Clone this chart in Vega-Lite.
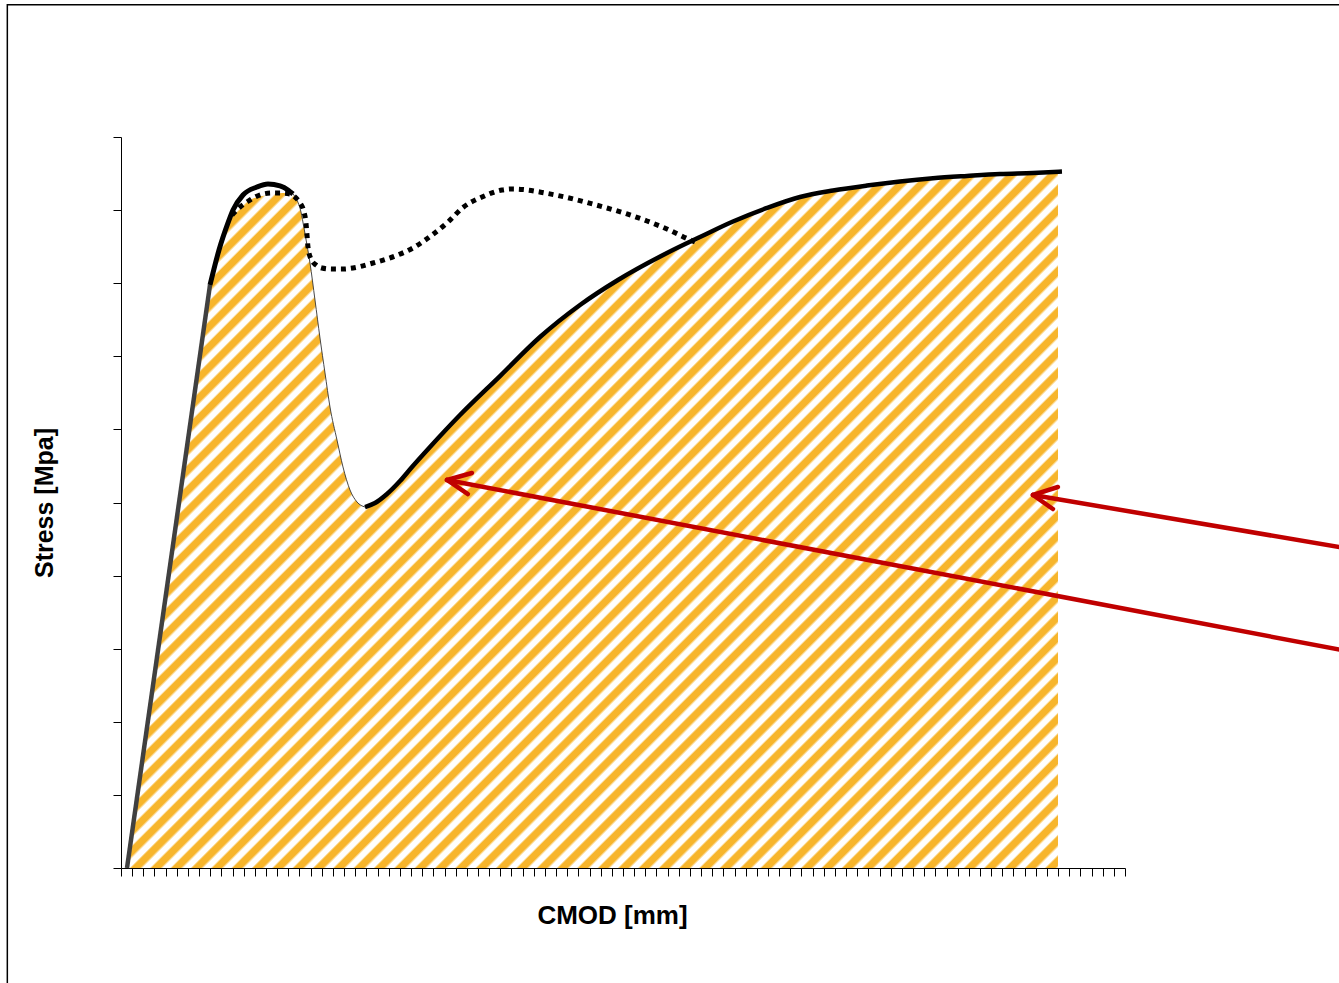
{
  "$schema": "https://vega.github.io/schema/vega-lite/v6.json",
  "width": 1004,
  "height": 731,
  "autosize": {"type": "none"},
  "padding": {"left": 121, "top": 137, "right": 214, "bottom": 115},
  "background": "white",
  "config": {"view": {"stroke": null}},
  "datasets": {
    "frame": [{"x": -10.19, "x2": 130, "y": 11.81, "y2": -5}],
    "area": [
      {"x": 0.538, "y": 0}, {"x": 4.0, "y": 3.711}, {"x": 7.5, "y": 7.463}, {"x": 7.978, "y": 7.975},
      {"x": 8.785, "y": 8.454}, {"x": 9.591, "y": 8.824}, {"x": 10.398, "y": 9.001}, {"x": 11.564, "y": 9.138},
      {"x": 13.087, "y": 9.207}, {"x": 14.522, "y": 9.234}, {"x": 15.329, "y": 9.22}, {"x": 15.777, "y": 9.138},
      {"x": 16.135, "y": 8.974}, {"x": 16.404, "y": 8.755}, {"x": 16.673, "y": 8.523}, {"x": 16.942, "y": 8.276},
      {"x": 17.39, "y": 7.77}, {"x": 17.838, "y": 7.25}, {"x": 18.287, "y": 6.772}, {"x": 18.735, "y": 6.306},
      {"x": 19.362, "y": 5.855}, {"x": 19.9, "y": 5.486}, {"x": 20.528, "y": 5.171}, {"x": 21.155, "y": 5.007},
      {"x": 21.872, "y": 4.938}, {"x": 22.769, "y": 4.993}, {"x": 23.844, "y": 5.117}, {"x": 25.01, "y": 5.294},
      {"x": 26.086, "y": 5.486}, {"x": 27.699, "y": 5.760}, {"x": 30.388, "y": 6.197}, {"x": 33.974, "y": 6.730},
      {"x": 37.559, "y": 7.264}, {"x": 41.145, "y": 7.702}, {"x": 44.551, "y": 8.044}, {"x": 48.943, "y": 8.413},
      {"x": 51.901, "y": 8.632}, {"x": 54.859, "y": 8.844}, {"x": 57.907, "y": 9.029}, {"x": 60.866, "y": 9.179},
      {"x": 63.824, "y": 9.268}, {"x": 66.871, "y": 9.336}, {"x": 69.83, "y": 9.391}, {"x": 72.788, "y": 9.435},
      {"x": 75.836, "y": 9.467}, {"x": 78.794, "y": 9.494}, {"x": 81.752, "y": 9.508}, {"x": 83.993, "y": 9.521}
    ],
    "grey": [{"x": 0.538, "y": 0}, {"x": 7.978, "y": 7.975}],
    "peak": [
      {"x": 7.978, "y": 7.975}, {"x": 8.785, "y": 8.454}, {"x": 9.591, "y": 8.824}, {"x": 10.04, "y": 9.001},
      {"x": 10.936, "y": 9.207}, {"x": 12.191, "y": 9.316}, {"x": 13.177, "y": 9.357}, {"x": 14.253, "y": 9.33},
      {"x": 14.97, "y": 9.275}, {"x": 15.418, "y": 9.22}
    ],
    "descent": [
      {"x": 15.418, "y": 9.22}, {"x": 15.777, "y": 9.138}, {"x": 16.135, "y": 8.974}, {"x": 16.404, "y": 8.755},
      {"x": 16.673, "y": 8.523}, {"x": 16.942, "y": 8.276}, {"x": 17.39, "y": 7.77}, {"x": 17.838, "y": 7.25},
      {"x": 18.287, "y": 6.772}, {"x": 18.735, "y": 6.306}, {"x": 19.362, "y": 5.855}, {"x": 19.9, "y": 5.486},
      {"x": 20.528, "y": 5.171}, {"x": 21.155, "y": 5.007}, {"x": 21.872, "y": 4.938}
    ],
    "rise": [
      {"x": 21.872, "y": 4.938}, {"x": 22.769, "y": 4.993}, {"x": 23.844, "y": 5.117}, {"x": 25.01, "y": 5.294},
      {"x": 26.086, "y": 5.486}, {"x": 27.699, "y": 5.760}, {"x": 30.388, "y": 6.197}, {"x": 33.974, "y": 6.730},
      {"x": 37.559, "y": 7.264}, {"x": 41.145, "y": 7.702}, {"x": 44.551, "y": 8.044}, {"x": 48.943, "y": 8.413},
      {"x": 51.901, "y": 8.632}, {"x": 54.859, "y": 8.844}, {"x": 57.907, "y": 9.029}, {"x": 60.866, "y": 9.179},
      {"x": 63.824, "y": 9.268}, {"x": 66.871, "y": 9.336}, {"x": 69.83, "y": 9.391}, {"x": 72.788, "y": 9.435},
      {"x": 75.836, "y": 9.467}, {"x": 78.794, "y": 9.494}, {"x": 81.752, "y": 9.508}, {"x": 84.351, "y": 9.528}
    ],
    "dotted": [
      {"x": 9.95, "y": 8.933}, {"x": 10.667, "y": 9.042}, {"x": 11.295, "y": 9.111}, {"x": 12.012, "y": 9.179},
      {"x": 12.729, "y": 9.22}, {"x": 13.536, "y": 9.234}, {"x": 14.432, "y": 9.234}, {"x": 15.149, "y": 9.22},
      {"x": 15.687, "y": 9.166}, {"x": 16.046, "y": 9.097}, {"x": 16.404, "y": 8.974}, {"x": 16.583, "y": 8.824},
      {"x": 16.673, "y": 8.659}, {"x": 16.763, "y": 8.495}, {"x": 17.032, "y": 8.331}, {"x": 17.48, "y": 8.249},
      {"x": 18.018, "y": 8.208}, {"x": 18.914, "y": 8.194}, {"x": 19.9, "y": 8.194}, {"x": 20.796, "y": 8.208},
      {"x": 22.589, "y": 8.276}, {"x": 24.561, "y": 8.372}, {"x": 26.175, "y": 8.482}, {"x": 27.878, "y": 8.659},
      {"x": 29.312, "y": 8.837}, {"x": 30.657, "y": 9.036}, {"x": 32.361, "y": 9.179}, {"x": 34.153, "y": 9.275},
      {"x": 35.139, "y": 9.289}, {"x": 36.035, "y": 9.282}, {"x": 38.007, "y": 9.234}, {"x": 39.8, "y": 9.179},
      {"x": 41.593, "y": 9.111}, {"x": 43.565, "y": 9.029}, {"x": 45.358, "y": 8.947}, {"x": 47.151, "y": 8.851},
      {"x": 48.943, "y": 8.741}, {"x": 50.826, "y": 8.605}, {"x": 51.454, "y": 8.564}
    ],
    "arrows": [
      {"x": 81.75, "y": 5.103, "x2": 111.06, "y2": 4.342},
      {"x": 81.75, "y": 5.103, "x2": 83.99, "y2": 5.212},
      {"x": 81.75, "y": 5.103, "x2": 83.54, "y2": 4.911},
      {"x": 29.22, "y": 5.308, "x2": 111.06, "y2": 2.934},
      {"x": 29.22, "y": 5.308, "x2": 31.46, "y2": 5.404},
      {"x": 29.22, "y": 5.308, "x2": 31.1, "y2": 5.116}
    ]
  },
  "encoding": {
    "x": {
      "field": "x", "type": "quantitative",
      "scale": {"domain": [0, 90], "nice": false, "zero": false},
      "axis": {
        "title": "CMOD [mm]", "labels": false, "grid": false, "tickCount": 90,
        "ticks": true, "tickSize": 8, "tickColor": "black", "tickWidth": 1,
        "domainColor": "black", "domainWidth": 1,
        "titleFont": "Liberation Sans", "titleFontSize": 26, "titleFontWeight": "bold", "titleColor": "black",
        "titleX": 491, "titleY": 55, "titleBaseline": "alphabetic", "titleAlign": "center"
      }
    },
    "y": {
      "field": "y", "type": "quantitative",
      "scale": {"domain": [0, 10], "nice": false, "zero": false},
      "axis": {
        "title": "Stress [Mpa]", "labels": false, "grid": false, "tickCount": 10,
        "ticks": true, "tickSize": 8, "tickColor": "black", "tickWidth": 1,
        "domainColor": "black", "domainWidth": 1,
        "titleFont": "Liberation Sans", "titleFontSize": 25, "titleFontWeight": "bold", "titleColor": "black",
        "titleX": -69, "titleY": 365.5, "titleBaseline": "alphabetic", "titleAlign": "center", "titleAngle": -90
      }
    }
  },
  "layer": [
    {
      "data": {"name": "frame"},
      "mark": {"type": "rect", "filled": false, "stroke": "black", "strokeWidth": 1.5, "clip": false},
      "encoding": {"x2": {"field": "x2"}, "y2": {"field": "y2"}}
    },
    {
      "data": {"name": "area"},
      "mark": {
        "type": "area", "interpolate": "monotone", "line": false,
        "fill": {
          "gradient": "linear", "x1": 0, "y1": 0, "x2": 1.1211, "y2": 0.8381,
          "stops": [
            {"offset":0,"color":"#fff"},{"offset":0.004,"color":"#fff"},{"offset":0.0055,"color":"#F7B52C"},{"offset":0.0105,"color":"#F7B52C"},{"offset":0.0125,"color":"#fff"},{"offset":0.0165,"color":"#fff"},{"offset":0.018,"color":"#F7B52C"},{"offset":0.023,"color":"#F7B52C"},
            {"offset":0.025,"color":"#fff"},{"offset":0.029,"color":"#fff"},{"offset":0.0305,"color":"#F7B52C"},{"offset":0.0355,"color":"#F7B52C"},{"offset":0.0375,"color":"#fff"},{"offset":0.0415,"color":"#fff"},{"offset":0.043,"color":"#F7B52C"},{"offset":0.048,"color":"#F7B52C"},
            {"offset":0.05,"color":"#fff"},{"offset":0.054,"color":"#fff"},{"offset":0.0555,"color":"#F7B52C"},{"offset":0.0605,"color":"#F7B52C"},{"offset":0.0625,"color":"#fff"},{"offset":0.0665,"color":"#fff"},{"offset":0.068,"color":"#F7B52C"},{"offset":0.073,"color":"#F7B52C"},
            {"offset":0.075,"color":"#fff"},{"offset":0.079,"color":"#fff"},{"offset":0.0805,"color":"#F7B52C"},{"offset":0.0855,"color":"#F7B52C"},{"offset":0.0875,"color":"#fff"},{"offset":0.0915,"color":"#fff"},{"offset":0.093,"color":"#F7B52C"},{"offset":0.098,"color":"#F7B52C"},
            {"offset":0.1,"color":"#fff"},{"offset":0.104,"color":"#fff"},{"offset":0.1055,"color":"#F7B52C"},{"offset":0.1105,"color":"#F7B52C"},{"offset":0.1125,"color":"#fff"},{"offset":0.1165,"color":"#fff"},{"offset":0.118,"color":"#F7B52C"},{"offset":0.123,"color":"#F7B52C"},
            {"offset":0.125,"color":"#fff"},{"offset":0.129,"color":"#fff"},{"offset":0.1305,"color":"#F7B52C"},{"offset":0.1355,"color":"#F7B52C"},{"offset":0.1375,"color":"#fff"},{"offset":0.1415,"color":"#fff"},{"offset":0.143,"color":"#F7B52C"},{"offset":0.148,"color":"#F7B52C"},
            {"offset":0.15,"color":"#fff"},{"offset":0.154,"color":"#fff"},{"offset":0.1555,"color":"#F7B52C"},{"offset":0.1605,"color":"#F7B52C"},{"offset":0.1625,"color":"#fff"},{"offset":0.1665,"color":"#fff"},{"offset":0.168,"color":"#F7B52C"},{"offset":0.173,"color":"#F7B52C"},
            {"offset":0.175,"color":"#fff"},{"offset":0.179,"color":"#fff"},{"offset":0.1805,"color":"#F7B52C"},{"offset":0.1855,"color":"#F7B52C"},{"offset":0.1875,"color":"#fff"},{"offset":0.1915,"color":"#fff"},{"offset":0.193,"color":"#F7B52C"},{"offset":0.198,"color":"#F7B52C"},
            {"offset":0.2,"color":"#fff"},{"offset":0.204,"color":"#fff"},{"offset":0.2055,"color":"#F7B52C"},{"offset":0.2105,"color":"#F7B52C"},{"offset":0.2125,"color":"#fff"},{"offset":0.2165,"color":"#fff"},{"offset":0.218,"color":"#F7B52C"},{"offset":0.223,"color":"#F7B52C"},
            {"offset":0.225,"color":"#fff"},{"offset":0.229,"color":"#fff"},{"offset":0.2305,"color":"#F7B52C"},{"offset":0.2355,"color":"#F7B52C"},{"offset":0.2375,"color":"#fff"},{"offset":0.2415,"color":"#fff"},{"offset":0.243,"color":"#F7B52C"},{"offset":0.248,"color":"#F7B52C"},
            {"offset":0.25,"color":"#fff"},{"offset":0.254,"color":"#fff"},{"offset":0.2555,"color":"#F7B52C"},{"offset":0.2605,"color":"#F7B52C"},{"offset":0.2625,"color":"#fff"},{"offset":0.2665,"color":"#fff"},{"offset":0.268,"color":"#F7B52C"},{"offset":0.273,"color":"#F7B52C"},
            {"offset":0.275,"color":"#fff"},{"offset":0.279,"color":"#fff"},{"offset":0.2805,"color":"#F7B52C"},{"offset":0.2855,"color":"#F7B52C"},{"offset":0.2875,"color":"#fff"},{"offset":0.2915,"color":"#fff"},{"offset":0.293,"color":"#F7B52C"},{"offset":0.298,"color":"#F7B52C"},
            {"offset":0.3,"color":"#fff"},{"offset":0.304,"color":"#fff"},{"offset":0.3055,"color":"#F7B52C"},{"offset":0.3105,"color":"#F7B52C"},{"offset":0.3125,"color":"#fff"},{"offset":0.3165,"color":"#fff"},{"offset":0.318,"color":"#F7B52C"},{"offset":0.323,"color":"#F7B52C"},
            {"offset":0.325,"color":"#fff"},{"offset":0.329,"color":"#fff"},{"offset":0.3305,"color":"#F7B52C"},{"offset":0.3355,"color":"#F7B52C"},{"offset":0.3375,"color":"#fff"},{"offset":0.3415,"color":"#fff"},{"offset":0.343,"color":"#F7B52C"},{"offset":0.348,"color":"#F7B52C"},
            {"offset":0.35,"color":"#fff"},{"offset":0.354,"color":"#fff"},{"offset":0.3555,"color":"#F7B52C"},{"offset":0.3605,"color":"#F7B52C"},{"offset":0.3625,"color":"#fff"},{"offset":0.3665,"color":"#fff"},{"offset":0.368,"color":"#F7B52C"},{"offset":0.373,"color":"#F7B52C"},
            {"offset":0.375,"color":"#fff"},{"offset":0.379,"color":"#fff"},{"offset":0.3805,"color":"#F7B52C"},{"offset":0.3855,"color":"#F7B52C"},{"offset":0.3875,"color":"#fff"},{"offset":0.3915,"color":"#fff"},{"offset":0.393,"color":"#F7B52C"},{"offset":0.398,"color":"#F7B52C"},
            {"offset":0.4,"color":"#fff"},{"offset":0.404,"color":"#fff"},{"offset":0.4055,"color":"#F7B52C"},{"offset":0.4105,"color":"#F7B52C"},{"offset":0.4125,"color":"#fff"},{"offset":0.4165,"color":"#fff"},{"offset":0.418,"color":"#F7B52C"},{"offset":0.423,"color":"#F7B52C"},
            {"offset":0.425,"color":"#fff"},{"offset":0.429,"color":"#fff"},{"offset":0.4305,"color":"#F7B52C"},{"offset":0.4355,"color":"#F7B52C"},{"offset":0.4375,"color":"#fff"},{"offset":0.4415,"color":"#fff"},{"offset":0.443,"color":"#F7B52C"},{"offset":0.448,"color":"#F7B52C"},
            {"offset":0.45,"color":"#fff"},{"offset":0.454,"color":"#fff"},{"offset":0.4555,"color":"#F7B52C"},{"offset":0.4605,"color":"#F7B52C"},{"offset":0.4625,"color":"#fff"},{"offset":0.4665,"color":"#fff"},{"offset":0.468,"color":"#F7B52C"},{"offset":0.473,"color":"#F7B52C"},
            {"offset":0.475,"color":"#fff"},{"offset":0.479,"color":"#fff"},{"offset":0.4805,"color":"#F7B52C"},{"offset":0.4855,"color":"#F7B52C"},{"offset":0.4875,"color":"#fff"},{"offset":0.4915,"color":"#fff"},{"offset":0.493,"color":"#F7B52C"},{"offset":0.498,"color":"#F7B52C"},
            {"offset":0.5,"color":"#fff"},{"offset":0.504,"color":"#fff"},{"offset":0.5055,"color":"#F7B52C"},{"offset":0.5105,"color":"#F7B52C"},{"offset":0.5125,"color":"#fff"},{"offset":0.5165,"color":"#fff"},{"offset":0.518,"color":"#F7B52C"},{"offset":0.523,"color":"#F7B52C"},
            {"offset":0.525,"color":"#fff"},{"offset":0.529,"color":"#fff"},{"offset":0.5305,"color":"#F7B52C"},{"offset":0.5355,"color":"#F7B52C"},{"offset":0.5375,"color":"#fff"},{"offset":0.5415,"color":"#fff"},{"offset":0.543,"color":"#F7B52C"},{"offset":0.548,"color":"#F7B52C"},
            {"offset":0.55,"color":"#fff"},{"offset":0.554,"color":"#fff"},{"offset":0.5555,"color":"#F7B52C"},{"offset":0.5605,"color":"#F7B52C"},{"offset":0.5625,"color":"#fff"},{"offset":0.5665,"color":"#fff"},{"offset":0.568,"color":"#F7B52C"},{"offset":0.573,"color":"#F7B52C"},
            {"offset":0.575,"color":"#fff"},{"offset":0.579,"color":"#fff"},{"offset":0.5805,"color":"#F7B52C"},{"offset":0.5855,"color":"#F7B52C"},{"offset":0.5875,"color":"#fff"},{"offset":0.5915,"color":"#fff"},{"offset":0.593,"color":"#F7B52C"},{"offset":0.598,"color":"#F7B52C"},
            {"offset":0.6,"color":"#fff"},{"offset":0.604,"color":"#fff"},{"offset":0.6055,"color":"#F7B52C"},{"offset":0.6105,"color":"#F7B52C"},{"offset":0.6125,"color":"#fff"},{"offset":0.6165,"color":"#fff"},{"offset":0.618,"color":"#F7B52C"},{"offset":0.623,"color":"#F7B52C"},
            {"offset":0.625,"color":"#fff"},{"offset":0.629,"color":"#fff"},{"offset":0.6305,"color":"#F7B52C"},{"offset":0.6355,"color":"#F7B52C"},{"offset":0.6375,"color":"#fff"},{"offset":0.6415,"color":"#fff"},{"offset":0.643,"color":"#F7B52C"},{"offset":0.648,"color":"#F7B52C"},
            {"offset":0.65,"color":"#fff"},{"offset":0.654,"color":"#fff"},{"offset":0.6555,"color":"#F7B52C"},{"offset":0.6605,"color":"#F7B52C"},{"offset":0.6625,"color":"#fff"},{"offset":0.6665,"color":"#fff"},{"offset":0.668,"color":"#F7B52C"},{"offset":0.673,"color":"#F7B52C"},
            {"offset":0.675,"color":"#fff"},{"offset":0.679,"color":"#fff"},{"offset":0.6805,"color":"#F7B52C"},{"offset":0.6855,"color":"#F7B52C"},{"offset":0.6875,"color":"#fff"},{"offset":0.6915,"color":"#fff"},{"offset":0.693,"color":"#F7B52C"},{"offset":0.698,"color":"#F7B52C"},
            {"offset":0.7,"color":"#fff"},{"offset":0.704,"color":"#fff"},{"offset":0.7055,"color":"#F7B52C"},{"offset":0.7105,"color":"#F7B52C"},{"offset":0.7125,"color":"#fff"},{"offset":0.7165,"color":"#fff"},{"offset":0.718,"color":"#F7B52C"},{"offset":0.723,"color":"#F7B52C"},
            {"offset":0.725,"color":"#fff"},{"offset":0.729,"color":"#fff"},{"offset":0.7305,"color":"#F7B52C"},{"offset":0.7355,"color":"#F7B52C"},{"offset":0.7375,"color":"#fff"},{"offset":0.7415,"color":"#fff"},{"offset":0.743,"color":"#F7B52C"},{"offset":0.748,"color":"#F7B52C"},
            {"offset":0.75,"color":"#fff"},{"offset":0.754,"color":"#fff"},{"offset":0.7555,"color":"#F7B52C"},{"offset":0.7605,"color":"#F7B52C"},{"offset":0.7625,"color":"#fff"},{"offset":0.7665,"color":"#fff"},{"offset":0.768,"color":"#F7B52C"},{"offset":0.773,"color":"#F7B52C"},
            {"offset":0.775,"color":"#fff"},{"offset":0.779,"color":"#fff"},{"offset":0.7805,"color":"#F7B52C"},{"offset":0.7855,"color":"#F7B52C"},{"offset":0.7875,"color":"#fff"},{"offset":0.7915,"color":"#fff"},{"offset":0.793,"color":"#F7B52C"},{"offset":0.798,"color":"#F7B52C"},
            {"offset":0.8,"color":"#fff"},{"offset":0.804,"color":"#fff"},{"offset":0.8055,"color":"#F7B52C"},{"offset":0.8105,"color":"#F7B52C"},{"offset":0.8125,"color":"#fff"},{"offset":0.8165,"color":"#fff"},{"offset":0.818,"color":"#F7B52C"},{"offset":0.823,"color":"#F7B52C"},
            {"offset":0.825,"color":"#fff"},{"offset":0.829,"color":"#fff"},{"offset":0.8305,"color":"#F7B52C"},{"offset":0.8355,"color":"#F7B52C"},{"offset":0.8375,"color":"#fff"},{"offset":0.8415,"color":"#fff"},{"offset":0.843,"color":"#F7B52C"},{"offset":0.848,"color":"#F7B52C"},
            {"offset":0.85,"color":"#fff"},{"offset":0.854,"color":"#fff"},{"offset":0.8555,"color":"#F7B52C"},{"offset":0.8605,"color":"#F7B52C"},{"offset":0.8625,"color":"#fff"},{"offset":0.8665,"color":"#fff"},{"offset":0.868,"color":"#F7B52C"},{"offset":0.873,"color":"#F7B52C"},
            {"offset":0.875,"color":"#fff"},{"offset":0.879,"color":"#fff"},{"offset":0.8805,"color":"#F7B52C"},{"offset":0.8855,"color":"#F7B52C"},{"offset":0.8875,"color":"#fff"},{"offset":0.8915,"color":"#fff"},{"offset":0.893,"color":"#F7B52C"},{"offset":0.898,"color":"#F7B52C"},
            {"offset":0.9,"color":"#fff"},{"offset":0.904,"color":"#fff"},{"offset":0.9055,"color":"#F7B52C"},{"offset":0.9105,"color":"#F7B52C"},{"offset":0.9125,"color":"#fff"},{"offset":0.9165,"color":"#fff"},{"offset":0.918,"color":"#F7B52C"},{"offset":0.923,"color":"#F7B52C"},
            {"offset":0.925,"color":"#fff"},{"offset":0.929,"color":"#fff"},{"offset":0.9305,"color":"#F7B52C"},{"offset":0.9355,"color":"#F7B52C"},{"offset":0.9375,"color":"#fff"},{"offset":0.9415,"color":"#fff"},{"offset":0.943,"color":"#F7B52C"},{"offset":0.948,"color":"#F7B52C"},
            {"offset":0.95,"color":"#fff"},{"offset":0.954,"color":"#fff"},{"offset":0.9555,"color":"#F7B52C"},{"offset":0.9605,"color":"#F7B52C"},{"offset":0.9625,"color":"#fff"},{"offset":0.9665,"color":"#fff"},{"offset":0.968,"color":"#F7B52C"},{"offset":0.973,"color":"#F7B52C"},
            {"offset":0.975,"color":"#fff"},{"offset":0.979,"color":"#fff"},{"offset":0.9805,"color":"#F7B52C"},{"offset":0.9855,"color":"#F7B52C"},{"offset":0.9875,"color":"#fff"},{"offset":0.9915,"color":"#fff"},{"offset":0.993,"color":"#F7B52C"},{"offset":0.998,"color":"#F7B52C"},
            {"offset":1,"color":"#fff"}
          ]
        }
      }
    },
    {
      "data": {"name": "grey"},
      "mark": {"type": "line", "color": "#404040", "strokeWidth": 4.5}
    },
    {
      "data": {"name": "descent"},
      "mark": {"type": "line", "interpolate": "monotone", "color": "#333333", "strokeWidth": 0.9}
    },
    {
      "data": {"name": "dotted"},
      "mark": {"type": "line", "interpolate": "monotone", "color": "black", "strokeWidth": 5, "strokeDash": [5, 5], "strokeCap": "butt"}
    },
    {
      "data": {"name": "peak"},
      "mark": {"type": "line", "interpolate": "monotone", "color": "black", "strokeWidth": 5}
    },
    {
      "data": {"name": "rise"},
      "mark": {"type": "line", "interpolate": "monotone", "color": "black", "strokeWidth": 4.5}
    },
    {
      "data": {"name": "arrows"},
      "mark": {"type": "rule", "color": "#C00000", "strokeWidth": 4.5, "strokeCap": "round", "clip": false},
      "encoding": {"x2": {"field": "x2"}, "y2": {"field": "y2"}}
    }
  ]
}
